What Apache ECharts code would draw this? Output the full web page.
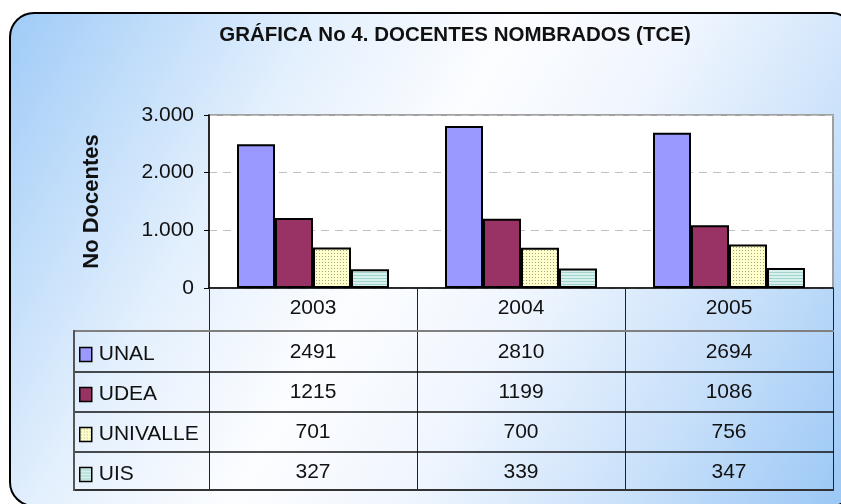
<!DOCTYPE html>
<html>
<head>
<meta charset="utf-8">
<script src="https://cdn.jsdelivr.net/npm/echarts@6/dist/echarts.min.js"></script>
<style>
html, body { margin: 0; padding: 0; background: #fff; }
#chart { width: 841px; height: 504px; }
</style>
</head>
<body>
<div id="chart"></div>
<script>
// datos de la grafica
var years = ['2003', '2004', '2005'];
var serNames = ['UNAL', 'UDEA', 'UNIVALLE', 'UIS'];
var unal = [2491, 2810, 2694];
var udea = [1215, 1199, 1086];
var univalle = [701, 700, 756];
var uis = [327, 339, 347];
var yTicks = [0, 1000, 2000, 3000];

var font = 'Liberation Sans';

// patron de puntos (UNIVALLE)
function dotPattern() {
	var c = document.createElement('canvas');
	c.width = 3; c.height = 3;
	var ctx = c.getContext('2d');
	ctx.fillStyle = '#ffffcc';
	ctx.fillRect(0, 0, 3, 3);
	ctx.fillStyle = '#a8a888';
	ctx.fillRect(1, 1, 1, 1);
	return c;
}
// patron de rayas horizontales (UIS)
function stripePattern() {
	var c = document.createElement('canvas');
	c.width = 4; c.height = 3;
	var ctx = c.getContext('2d');
	ctx.fillStyle = '#d6f1ed';
	ctx.fillRect(0, 0, 4, 3);
	ctx.fillStyle = '#a6d3ce';
	ctx.fillRect(0, 2, 4, 1);
	return c;
}

var fills = [
	'#9999ff',
	'#993366',
	{ image: dotPattern(), repeat: 'repeat' },
	{ image: stripePattern(), repeat: 'repeat' }
];
var dataRows = [unal, udea, univalle, uis];

function initSeries(name, dataList, fill) {
	return {
		name : name,
		type : 'bar',
		data : dataList,
		barWidth : 38,
		barGap : '0%',
		itemStyle : {
			color : fill,
			borderColor : '#000',
			borderWidth : 2
		}
	};
}

function fmtThousands(v) {
	return String(v).replace(/\B(?=(\d{3})+(?!\d))/g, '.');
}

var seriesData = [];
for (var i = 0; i < serNames.length; i++) {
	seriesData.push(initSeries(serNames[i], dataRows[i], fills[i]));
}

// filas de la tabla como ejes extra
var xAxes = [ {
	type : 'category',
	data : years,
	position : 'bottom',
	axisLine : { show : true, onZero : false, lineStyle : { color : '#000', width : 1.5 } },
	axisTick : { show : true, inside : false, length : 202, lineStyle : { color : '#222', width : 1 } },
	axisLabel : { margin : 10, fontSize : 21, fontFamily : font, color : '#111' },
	splitLine : { show : false }
} ];
for (var r = 0; r < dataRows.length; r++) {
	(function(row, idx) {
		xAxes.push({
			type : 'category',
			data : years,
			position : 'bottom',
			offset : 44 + idx * 40,
			axisLine : { show : false },
			axisTick : { show : false },
			splitLine : { show : false },
			axisLabel : {
				margin : 10,
				fontSize : 21,
				fontFamily : font,
				color : '#111',
				formatter : function(v, i) { return String(row[i]); }
			}
		});
	})(dataRows[r], r);
}

var tableLines = [];
var hl = [
	{ y : 331, c : '#808080', w : 2 },
	{ y : 372, c : '#111', w : 1.5 },
	{ y : 412, c : '#111', w : 1.5 },
	{ y : 452, c : '#111', w : 1.5 },
	{ y : 490, c : '#333', w : 2 }
];
for (var k = 0; k < hl.length; k++) {
	tableLines.push({
		type : 'line',
		z : 5,
		shape : { x1 : 74, y1 : hl[k].y, x2 : 834, y2 : hl[k].y },
		style : { stroke : hl[k].c, lineWidth : hl[k].w }
	});
}
tableLines.push({
	type : 'line',
	z : 5,
	shape : { x1 : 74, y1 : 330, x2 : 74, y2 : 491 },
	style : { stroke : '#555', lineWidth : 2 }
});

var option = {
	animation : false,
	title : {
		text : 'GRÁFICA No 4. DOCENTES NOMBRADOS (TCE)',
		left : 450,
		top : 20,
		textAlign : 'center',
		textStyle : { fontSize : 20.5, fontWeight : 'bold', fontFamily : font, color : '#111' }
	},
	graphic : [ {
		type : 'rect',
		z : -10,
		silent : true,
		shape : { x : 10, y : 13, width : 842, height : 493, r : [24, 20, 20, 24] },
		style : {
			fill : new echarts.graphic.LinearGradient(0, 0, 1, 1, [
				{ offset : 0, color : '#9fcbf7' },
				{ offset : 0.28, color : '#e4f0fd' },
				{ offset : 0.45, color : '#fcfdff' },
				{ offset : 0.6, color : '#f0f6fe' },
				{ offset : 0.8, color : '#c8e0fa' },
				{ offset : 1, color : '#98c6f5' }
			]),
			stroke : '#000',
			lineWidth : 2
		}
	} ].concat(tableLines),
	legend : {
		data : serNames,
		orient : 'vertical',
		left : 79,
		top : 344,
		icon : 'rect',
		itemWidth : 12,
		itemHeight : 14,
		itemGap : 19,
		padding : 0,
		itemStyle : { borderColor : '#000', borderWidth : 1.5 },
		textStyle : { fontSize : 21, fontFamily : font, color : '#111', lineHeight : 20, padding : [0, 0, 0, 2] }
	},
	grid : {
		left : 209,
		right : 8,
		top : 115,
		bottom : 216,
		show : true,
		backgroundColor : '#fff',
		borderColor : '#a0a0a0',
		borderWidth : 2
	},
	xAxis : xAxes,
	yAxis : [ {
		type : 'value',
		min : yTicks[0],
		max : yTicks[yTicks.length - 1],
		interval : 1000,
		name : 'No Docentes',
		nameLocation : 'middle',
		nameRotate : 90,
		nameGap : 106,
		nameTextStyle : { fontSize : 22, fontWeight : 'bold', fontFamily : font, color : '#111' },
		axisLine : { show : true, lineStyle : { color : '#000', width : 1.5 } },
		axisTick : { show : true, inside : false, length : 5, lineStyle : { color : '#000' } },
		axisLabel : { margin : 15, fontSize : 21, fontFamily : font, color : '#111', formatter : fmtThousands },
		splitLine : { show : true, lineStyle : { color : '#c0c0c0', type : [8, 6], width : 1 } }
	} ],
	series : seriesData
};

var myChart = echarts.init(document.getElementById('chart'));
myChart.setOption(option, true);
</script>
</body>
</html>
